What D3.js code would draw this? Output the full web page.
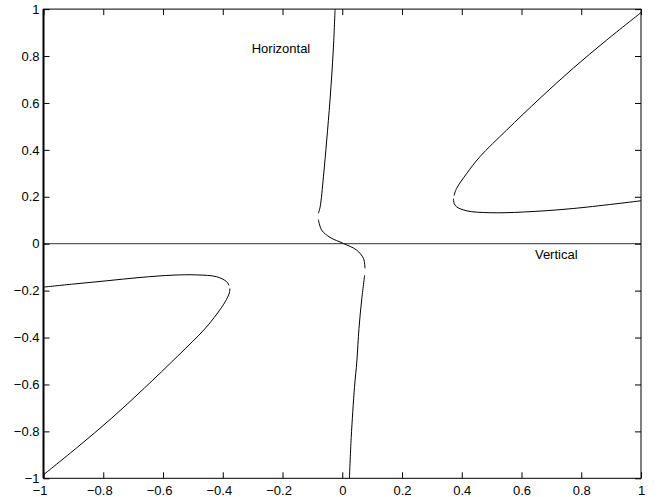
<!DOCTYPE html>
<html>
<head>
<meta charset="utf-8">
<script src="https://cdn.jsdelivr.net/npm/d3@7"></script>
<style>
  html, body { margin: 0; padding: 0; background: #fff; }
  svg { display: block; }
  .axis text { font-family: "Liberation Sans", Arial, Helvetica, sans-serif; font-size: 13px; fill: #000; }
  .label { font-family: "Liberation Sans", Arial, Helvetica, sans-serif; font-size: 13px; fill: #000; }
</style>
</head>
<body>
<div id="chart"></div>
<script>
// tick values
const xTicks = [-1, -0.8, -0.6, -0.4, -0.2, 0, 0.2, 0.4, 0.6, 0.8, 1];
const yTicks = [-1, -0.8, -0.6, -0.4, -0.2, 0, 0.2, 0.4, 0.6, 0.8, 1];

// curve pieces, [x, y]
const centralTop = [[-0.024, 1.0], [-0.030, 0.826], [-0.041, 0.612], [-0.052, 0.442],
  [-0.063, 0.285], [-0.074, 0.157], [-0.080, 0.129]];
const centralMid = [[-0.080, 0.103], [-0.069, 0.058], [-0.041, 0.027], [0.004, 0.001],
  [0.048, -0.027], [0.071, -0.063], [0.076, -0.105]];
const centralBottom = [[0.075, -0.134], [0.065, -0.240], [0.056, -0.361], [0.049, -0.500],
  [0.041, -0.612], [0.030, -0.826], [0.024, -1.0]];

const rightUpper = [[1.0, 0.985], [0.885, 0.868], [0.773, 0.748], [0.662, 0.620],
  [0.550, 0.484], [0.461, 0.371], [0.417, 0.300], [0.383, 0.236], [0.374, 0.205]];
const rightLower = [[0.372, 0.192], [0.375, 0.170], [0.383, 0.157], [0.417, 0.140],
  [0.495, 0.132], [0.606, 0.135], [0.773, 0.150], [1.0, 0.183]];

const leftUpper = [[-1.0, -0.185], [-0.900, -0.172], [-0.788, -0.158], [-0.677, -0.144],
  [-0.566, -0.134], [-0.487, -0.133], [-0.420, -0.141], [-0.387, -0.162], [-0.379, -0.178]];
const leftLower = [[-0.376, -0.191], [-0.378, -0.210], [-0.392, -0.248], [-0.420, -0.300],
  [-0.460, -0.363], [-0.550, -0.478], [-0.662, -0.615], [-0.773, -0.745],
  [-0.885, -0.866], [-1.0, -0.985]];

const zeroLine = [[-1, 0], [1, 0]];

const labels = [
  { text: 'Horizontal', x: -0.303, y: 0.814 },
  { text: 'Vertical', x: 0.645, y: -0.064 }
];

const cw = 662, ch = 497;
const margin = { top: 9.1, right: 21, bottom: 18.7, left: 43.5 };
const w = cw - margin.left - margin.right;
const h = ch - margin.top - margin.bottom;

const svg = d3.select('#chart').append('svg')
  .attr('width', cw).attr('height', ch)
  .append('g')
  .attr('transform', `translate(${margin.left},${margin.top})`);

const xScale = d3.scaleLinear().domain([-1, 1]).range([0, w]);
const yScale = d3.scaleLinear().domain([-1, 1]).range([h, 0]);
const fmt = d3.format('~g');

svg.append('clipPath').attr('id', 'clip')
  .append('rect').attr('width', w).attr('height', h);

// zero line
const line = d3.line().x(d => xScale(d[0])).y(d => yScale(d[1]));
svg.append('path')
  .attr('d', line(zeroLine))
  .attr('fill', 'none').attr('stroke', '#333').attr('stroke-width', 1);

// curves
const smooth = d3.line()
  .x(d => xScale(d[0])).y(d => yScale(d[1]))
  .curve(d3.curveCatmullRom.alpha(0.5));

const pieces = [centralTop, centralMid, centralBottom, rightUpper, rightLower, leftUpper, leftLower];
svg.append('g').attr('clip-path', 'url(#clip)')
  .selectAll('path')
  .data(pieces)
  .join('path')
  .attr('d', smooth)
  .attr('fill', 'none')
  .attr('stroke', '#000')
  .attr('stroke-width', 1);

// axes, ticks inward on all four sides
svg.append('g')
  .attr('class', 'axis')
  .attr('transform', `translate(0,${h})`)
  .call(d3.axisBottom(xScale).tickValues(xTicks).tickFormat(fmt).tickSize(-6).tickPadding(7))
  .call(g => g.select('.domain').remove())
  .call(g => g.selectAll('text').attr('dx', d => d < 0 ? '-0.3em' : 0));

svg.append('g')
  .attr('class', 'axis')
  .call(d3.axisTop(xScale).tickValues(xTicks).tickFormat('').tickSize(-6))
  .call(g => g.select('.domain').remove());

svg.append('g')
  .attr('class', 'axis')
  .call(d3.axisLeft(yScale).tickValues(yTicks).tickFormat(fmt).tickSize(-6).tickPadding(4))
  .call(g => g.select('.domain').remove());

svg.append('g')
  .attr('class', 'axis')
  .attr('transform', `translate(${w},0)`)
  .call(d3.axisRight(yScale).tickValues(yTicks).tickFormat('').tickSize(-6))
  .call(g => g.select('.domain').remove());

// frame
svg.append('rect')
  .attr('width', w).attr('height', h)
  .attr('fill', 'none').attr('stroke', '#000').attr('stroke-width', 1);
svg.append('line')
  .attr('x1', 0).attr('x2', 0).attr('y1', 0).attr('y2', h)
  .attr('stroke', '#000').attr('stroke-width', 2);

// annotations
svg.selectAll('.label')
  .data(labels)
  .join('text')
  .attr('class', 'label')
  .attr('x', d => xScale(d.x))
  .attr('y', d => yScale(d.y))
  .text(d => d.text);
</script>
</body>
</html>
